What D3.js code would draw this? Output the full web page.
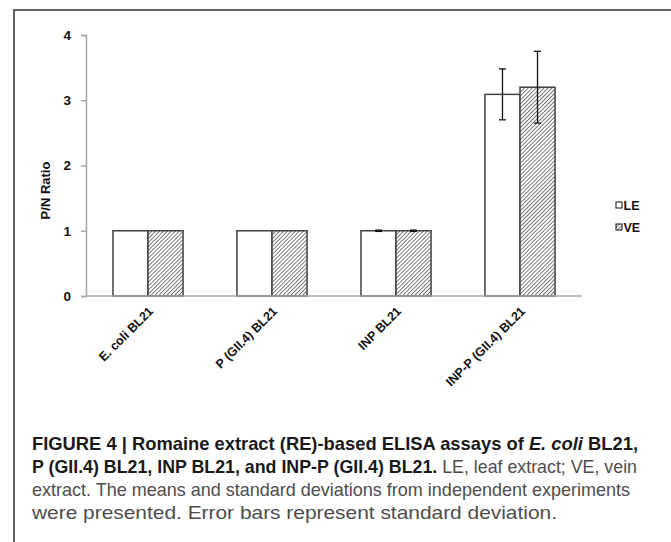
<!DOCTYPE html>
<html>
<head>
<meta charset="utf-8">
<script src="https://cdn.jsdelivr.net/npm/d3@7"></script>
<style>
  body { margin: 0; background: #fff; }
  svg { display: block; }
</style>
</head>
<body>
<div id="chart"></div>
<script>
const categorias = ["E. coli BL21", "P (GII.4) BL21", "INP BL21", "INP-P (GII.4) BL21"];
const series = ["LE", "VE"];
const valoresLE = [1, 1, 1, 3.09];
const valoresVE = [1, 1, 1, 3.2];
const desvioLE = [0, 0, 0.01, 0.39];
const desvioVE = [0, 0, 0.01, 0.55];
const ticksY = [0, 1, 2, 3, 4];

const largura = 671;
const altura = 542;
const margem = { top: 35, right: 89, bottom: 246, left: 86 };
const fonte = "'Liberation Sans', Arial, sans-serif";

const svg = d3.select("#chart").append("svg")
    .attr("width", largura)
    .attr("height", altura);

// Moldura da figura
svg.append("path")
    .attr("d", `M14,${altura} V10 H${largura}`)
    .attr("fill", "none")
    .attr("stroke", "#333")
    .attr("stroke-width", 1.5);

// Padrão hachurado (VE)
const defs = svg.append("defs");
const passo = 2.8;
const padrao = defs.append("pattern")
    .attr("id", "hachura")
    .attr("patternUnits", "userSpaceOnUse")
    .attr("width", passo)
    .attr("height", passo)
    .attr("patternTransform", "rotate(45)");
padrao.append("rect").attr("width", passo).attr("height", passo).attr("fill", "#fff");
padrao.append("line")
    .attr("x1", 0).attr("y1", 0).attr("x2", 0).attr("y2", passo)
    .attr("stroke", "#333").attr("stroke-width", 1.3);

const dados = categorias.map((c, i) => ({
    categoria: c,
    barras: [
        { serie: "LE", valor: valoresLE[i], sd: desvioLE[i] },
        { serie: "VE", valor: valoresVE[i], sd: desvioVE[i] }
    ]
}));

// Escalas
const escalaX = d3.scaleBand()
    .domain(categorias)
    .range([margem.left, largura - margem.right])
    .paddingInner(0.435)
    .paddingOuter(0.2175);

const escalaSerie = d3.scaleBand()
    .domain(series)
    .range([0, escalaX.bandwidth()]);

const escalaY = d3.scaleLinear()
    .domain([0, 4])
    .range([altura - margem.bottom, margem.top]);

// Eixo Y
const eixoY = svg.append("g")
    .attr("transform", `translate(${margem.left},0)`)
    .call(d3.axisLeft(escalaY).tickValues(ticksY).tickSize(5).tickPadding(10).tickFormat(d3.format("d")));
eixoY.select(".domain").attr("stroke", "#a6a6a6").attr("stroke-width", 1.5);
eixoY.selectAll(".tick line").attr("stroke", "#a6a6a6").attr("stroke-width", 1.5);
eixoY.selectAll(".tick text")
    .attr("fill", "#111")
    .style("font-family", fonte)
    .style("font-size", "13.5px")
    .style("font-weight", "bold");

// Barras
const grupos = svg.selectAll(".grupo")
    .data(dados)
    .enter()
    .append("g")
    .attr("class", "grupo")
    .attr("transform", d => `translate(${escalaX(d.categoria)},0)`);

grupos.selectAll("rect")
    .data(d => d.barras)
    .enter()
    .append("rect")
    .attr("x", d => escalaSerie(d.serie))
    .attr("y", d => escalaY(d.valor))
    .attr("width", escalaSerie.bandwidth())
    .attr("height", d => escalaY(0) - escalaY(d.valor))
    .attr("fill", d => d.serie === "VE" ? "url(#hachura)" : "#fff")
    .attr("stroke", "#404040")
    .attr("stroke-width", 1.5);

// Barras de erro
const erros = grupos.selectAll(".erro")
    .data(d => d.barras.filter(b => b.sd > 0))
    .enter()
    .append("g")
    .attr("class", "erro")
    .attr("transform", d => `translate(${escalaSerie(d.serie) + escalaSerie.bandwidth() / 2},0)`);

erros.append("line")
    .attr("x1", 0).attr("x2", 0)
    .attr("y1", d => escalaY(d.valor - d.sd))
    .attr("y2", d => escalaY(d.valor + d.sd))
    .attr("stroke", "#111").attr("stroke-width", 1.3);
erros.selectAll(".cap")
    .data(d => [d.valor - d.sd, d.valor + d.sd])
    .enter()
    .append("line")
    .attr("x1", -3.5).attr("x2", 3.5)
    .attr("y1", v => escalaY(v))
    .attr("y2", v => escalaY(v))
    .attr("stroke", "#111").attr("stroke-width", 1.3);

// Eixo X
const eixoX = svg.append("g")
    .attr("transform", `translate(0,${altura - margem.bottom})`)
    .call(d3.axisBottom(escalaX).tickSize(0).tickPadding(0));
eixoX.select(".domain")
    .attr("d", `M${margem.left},0H${largura - margem.right}`)
    .attr("stroke", "#a6a6a6").attr("stroke-width", 1.5);
eixoX.selectAll(".tick text")
    .attr("text-anchor", "end")
    .attr("dy", "0")
    .attr("transform", "translate(6,16) rotate(-45)")
    .attr("fill", "#111")
    .style("font-family", fonte)
    .style("font-size", "12.5px")
    .style("font-weight", "bold");

// Título do eixo Y
svg.append("text")
    .attr("transform", `translate(50,${(escalaY(0) + escalaY(4)) / 2 + 25}) rotate(-90)`)
    .attr("text-anchor", "middle")
    .attr("fill", "#111")
    .style("font-family", fonte)
    .style("font-size", "13px")
    .style("font-weight", "bold")
    .text("P/N Ratio");

// Legenda
const legenda = svg.append("g")
    .attr("transform", "translate(616,205)");
series.forEach((s, i) => {
    const item = legenda.append("g").attr("transform", `translate(0,${i * 22})`);
    item.append("rect")
        .attr("x", 0).attr("y", -3)
        .attr("width", 6).attr("height", 6)
        .attr("fill", s === "VE" ? "url(#hachura)" : "#fff")
        .attr("stroke", "#333").attr("stroke-width", 1.2);
    item.append("text")
        .attr("x", 7.5).attr("y", 4.5)
        .attr("fill", "#111")
        .style("font-family", fonte)
        .style("font-size", "12.5px")
        .style("font-weight", "bold")
        .text(s);
});

// Legenda da figura
const linhas = [
    { y: 450, w: 606, partes: [
        { t: "FIGURE 4 | Romaine extract (RE)-based ELISA assays of ", b: true },
        { t: "E. coli", b: true, i: true },
        { t: " BL21,", b: true }
    ] },
    { y: 473, w: 605, partes: [
        { t: "P (GII.4) BL21, INP BL21, and INP-P (GII.4) BL21.", b: true },
        { t: " LE, leaf extract; VE, vein", b: false }
    ] },
    { y: 496, w: 598, partes: [
        { t: "extract. The means and standard deviations from independent experiments", b: false }
    ] },
    { y: 519, w: 525, partes: [
        { t: "were presented. Error bars represent standard deviation.", b: false }
    ] }
];

linhas.forEach(l => {
    const txt = svg.append("text")
        .attr("x", 32)
        .attr("y", l.y)
        .attr("textLength", l.w)
        .attr("lengthAdjust", "spacingAndGlyphs")
        .style("font-family", fonte)
        .style("font-size", "18.5px");
    l.partes.forEach(p => {
        txt.append("tspan")
            .attr("fill", p.b ? "#1a1a1a" : "#4d4d4d")
            .style("font-weight", p.b ? "bold" : "normal")
            .style("font-style", p.i ? "italic" : "normal")
            .text(p.t);
    });
});
</script>
</body>
</html>
